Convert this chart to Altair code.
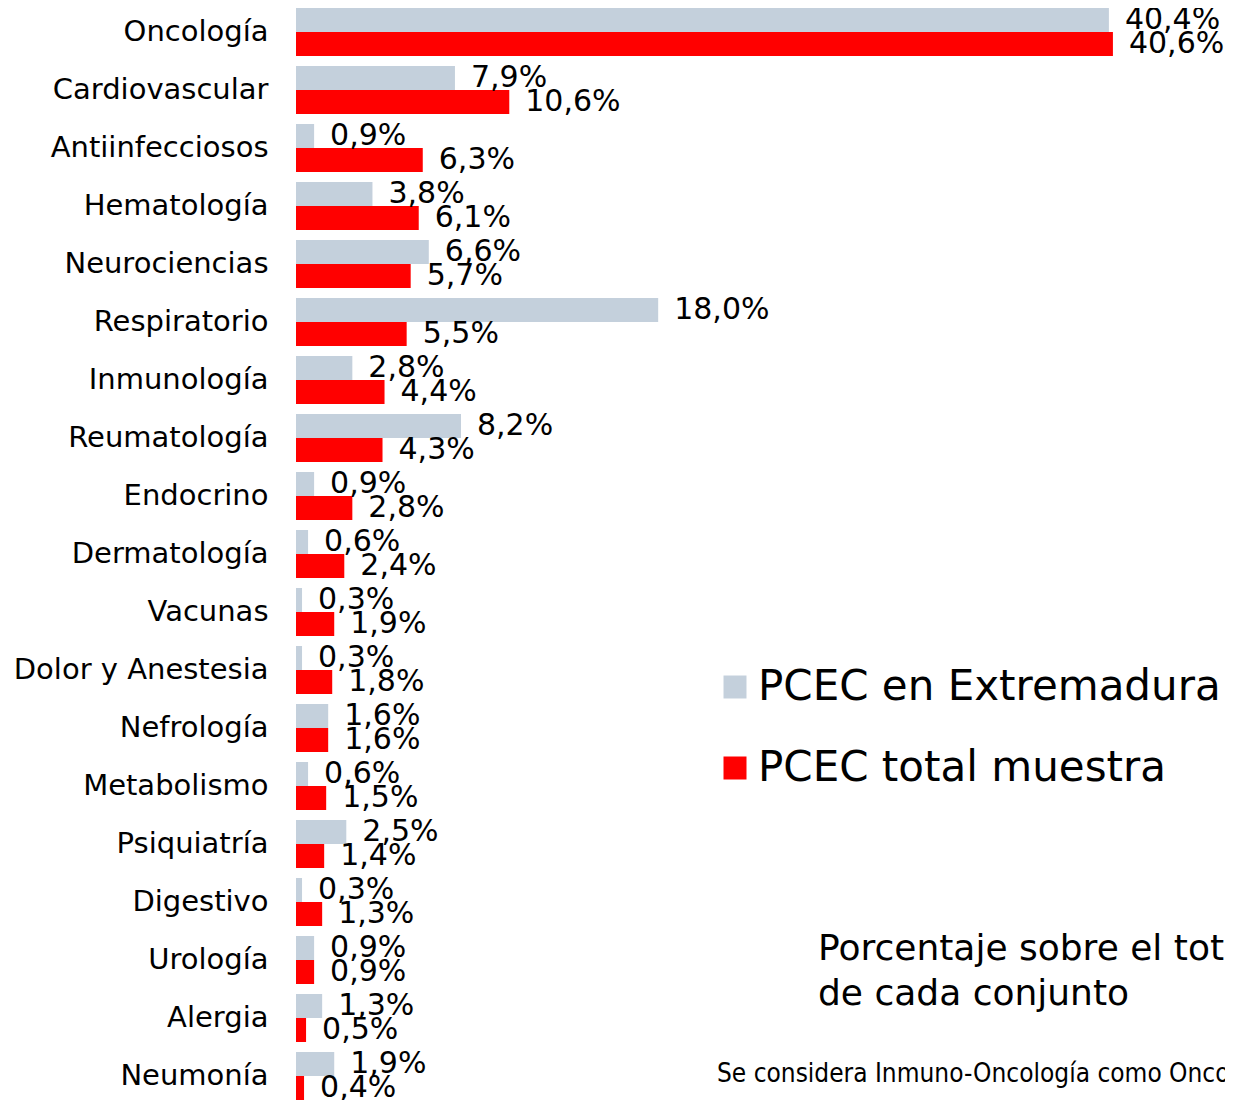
import altair as alt
import pandas as pd

categories = ["Oncología", "Cardiovascular", "Antiinfecciosos", "Hematología", "Neurociencias",
              "Respiratorio", "Inmunología", "Reumatología", "Endocrino", "Dermatología",
              "Vacunas", "Dolor y Anestesia", "Nefrología", "Metabolismo", "Psiquiatría",
              "Digestivo", "Urología", "Alergia", "Neumonía"]
extremadura = [40.4, 7.9, 0.9, 3.8, 6.6, 18.0, 2.8, 8.2, 0.9, 0.6, 0.3, 0.3, 1.6, 0.6, 2.5, 0.3, 0.9, 1.3, 1.9]
total = [40.6, 10.6, 6.3, 6.1, 5.7, 5.5, 4.4, 4.3, 2.8, 2.4, 1.9, 1.8, 1.6, 1.5, 1.4, 1.3, 0.9, 0.5, 0.4]
series_names = ["PCEC en Extremadura", "PCEC total muestra"]
series_colors = ["#c4d0dc", "#ff0000"]

rows = []
for c, a, b in zip(categories, extremadura, total):
    for s, v in zip(series_names, (a, b)):
        rows.append({"cat": c, "serie": s, "valor": v,
                     "etiqueta": f"{v:.1f}".replace(".", ",") + "%"})
df = pd.DataFrame(rows)

FONT = "DejaVu Sans"

y_enc = alt.Y("cat:N", sort=categories,
              scale=alt.Scale(paddingInner=0.172, paddingOuter=0),
              axis=alt.Axis(title=None, domain=False, ticks=False, labelPadding=28,
                            labelFontSize=29, labelFont=FONT, labelColor="black",
                            labelLimit=400))
yoff = alt.YOffset("serie:N", sort=series_names, scale=alt.Scale(paddingInner=0, paddingOuter=0))
x_enc = alt.X("valor:Q", scale=alt.Scale(domain=[0, 46.17], nice=False, zero=True), axis=None)

bars = alt.Chart(df).mark_bar(opacity=1).encode(
    y=y_enc, yOffset=yoff, x=x_enc,
    color=alt.Color("serie:N", sort=series_names,
                    scale=alt.Scale(domain=series_names, range=series_colors),
                    legend=alt.Legend(title=None, orient="none", legendX=418, legendY=658,
                                      symbolType="square", symbolSize=529, symbolStrokeWidth=0,
                                      symbolOpacity=1, labelFontSize=42, labelFont=FONT,
                                      labelColor="black", labelOffset=2, rowPadding=39,
                                      padding=0, labelLimit=800))
)

labels = alt.Chart(df).mark_text(align="left", baseline="middle", dx=16, fontSize=30,
                                 font=FONT, color="black").encode(
    y=y_enc, yOffset=yoff, x=x_enc, text="etiqueta:N"
)

note_df = pd.DataFrame({"t": [["Porcentaje sobre el total", "de cada conjunto"]]})
note = alt.Chart(note_df).mark_text(align="left", baseline="alphabetic", fontSize=36,
                                    font=FONT, color="black", lineHeight=45).encode(
    x=alt.value(522), y=alt.value(952), text="t"
)

foot_df = pd.DataFrame({"t": ["Se considera Inmuno-Oncología como Oncología"]})
foot = alt.Chart(foot_df).mark_text(align="left", baseline="alphabetic", fontSize=26,
                                    font="DejaVu Sans Condensed", color="black").encode(
    x=alt.value(421), y=alt.value(1074), text="t:N"
)

chart = alt.layer(bars, labels, note, foot).properties(
    width=929, height=1092,
    padding={"left": 288, "top": 0, "right": 0, "bottom": 0},
    autosize=alt.AutoSizeParams(type="none"),
).configure_view(stroke=None)

chart.save("out.html", embed_options={"renderer": "svg", "actions": False})
